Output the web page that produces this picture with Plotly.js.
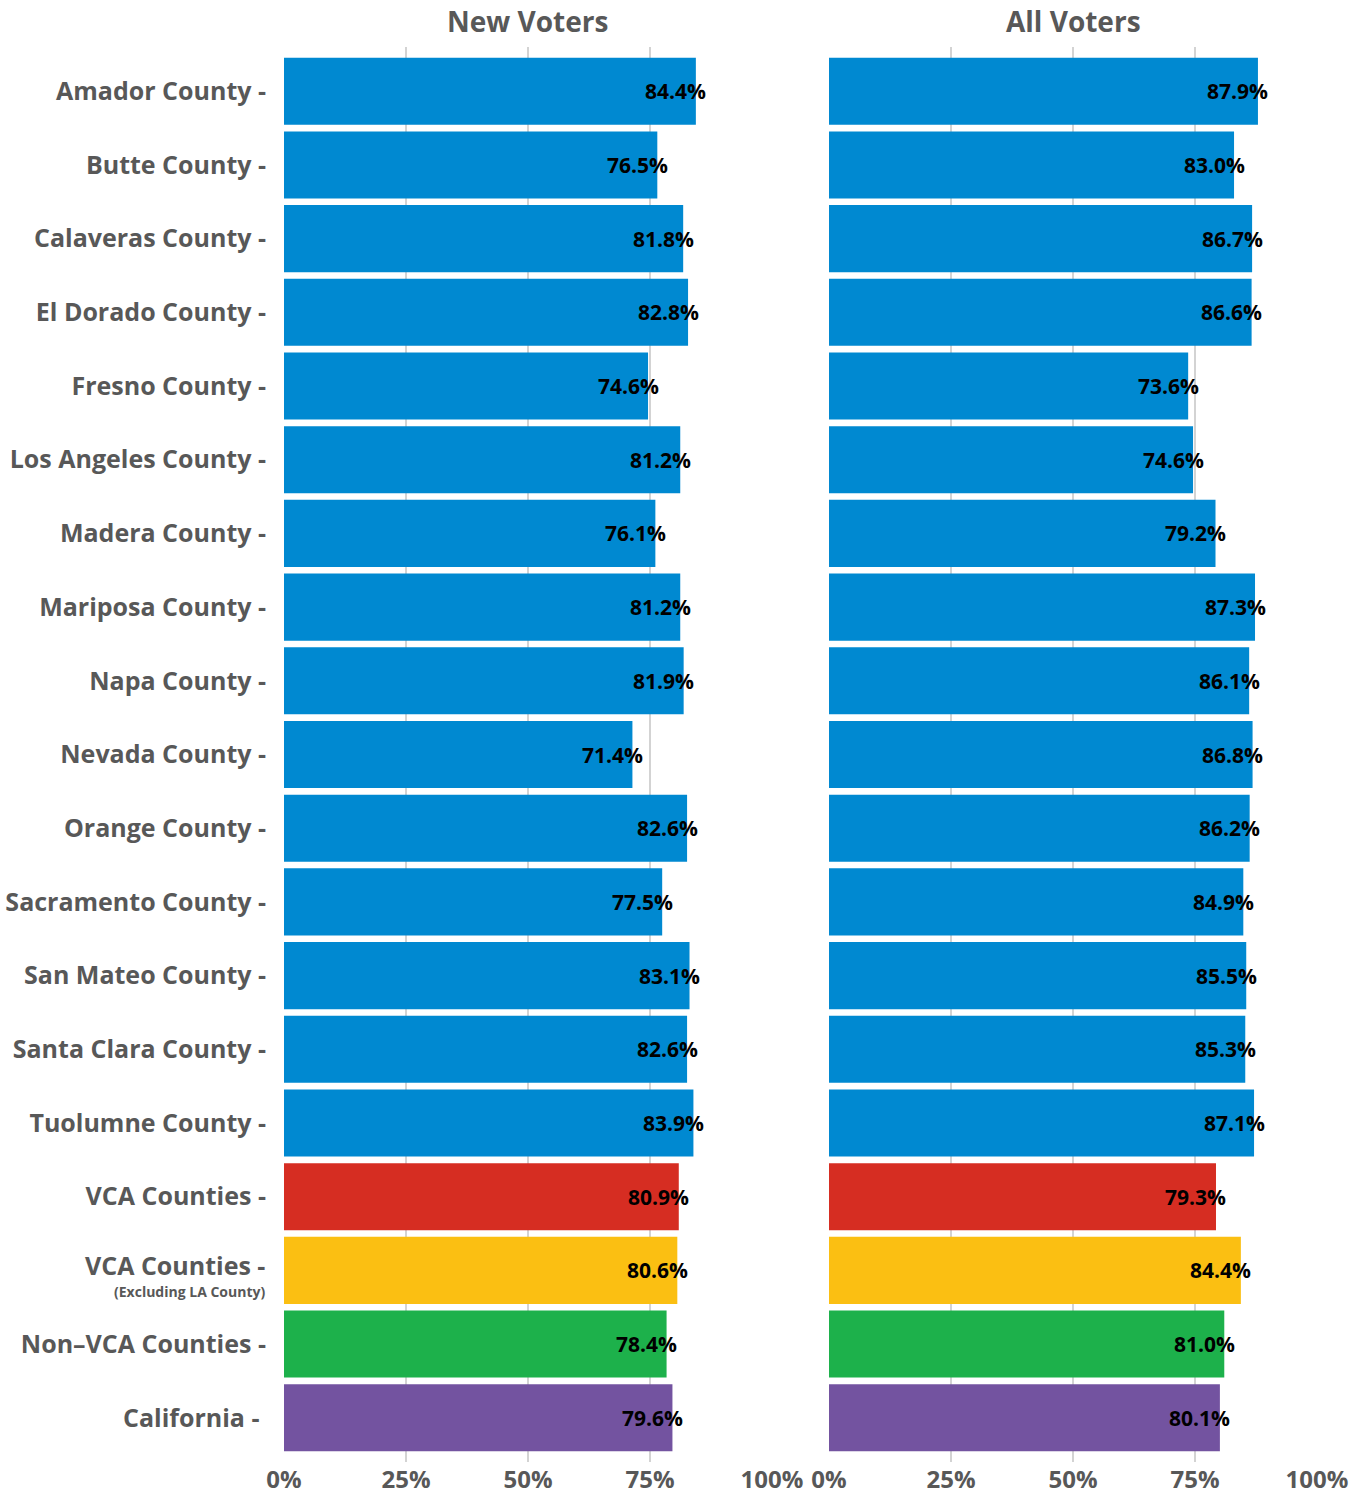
<!DOCTYPE html>
<html>
<head>
<meta charset="utf-8">
<script src="https://cdn.plot.ly/plotly-3.0.1.min.js"></script>
<style>html,body{margin:0;padding:0;background:#fff;}</style>
</head>
<body>
<div id="chart" style="width:1362px;height:1495px;"></div>
<script>
const categories = ["Amador County","Butte County","Calaveras County","El Dorado County","Fresno County","Los Angeles County","Madera County","Mariposa County","Napa County","Nevada County","Orange County","Sacramento County","San Mateo County","Santa Clara County","Tuolumne County","VCA Counties","VCA Counties (Excluding LA County)","Non\u2013VCA Counties","California"];
const tickLabels = ["Amador County -","Butte County -","Calaveras County -","El Dorado County -","Fresno County -","Los Angeles County -","Madera County -","Mariposa County -","Napa County -","Nevada County -","Orange County -","Sacramento County -","San Mateo County -","Santa Clara County -","Tuolumne County -","VCA Counties -","","Non\u2013VCA Counties -","California -\u00a0"];
const twoLineLabels = {"VCA Counties (Excluding LA County)":["VCA Counties -","(Excluding LA County)"]};
const newVoters = [84.4,76.5,81.8,82.8,74.6,81.2,76.1,81.2,81.9,71.4,82.6,77.5,83.1,82.6,83.9,80.9,80.6,78.4,79.6];
const allVoters = [87.9,83.0,86.7,86.6,73.6,74.6,79.2,87.3,86.1,86.8,86.2,84.9,85.5,85.3,87.1,79.3,84.4,81.0,80.1];
const groups = ["county","county","county","county","county","county","county","county","county","county","county","county","county","county","county","vca","vcaExLA","nonVca","state"];
const groupColors = {county:"#0089D1", vca:"#D62D22", vcaExLA:"#FBBF12", nonVca:"#1DB14B", state:"#7353A0"};
const xTickVals = [0,25,50,75,100];
const xTickText = ["0%","25%","50%","75%","100%"];

const FONT = "'Open Sans', sans-serif";
const GRAY = "#585858";
const colors = groups.map(g => groupColors[g]);
const b = s => "<b>" + s + "</b>";

const traces = [
  {type:"bar", orientation:"h", x:newVoters, y:categories, xaxis:"x", yaxis:"y",
   marker:{color:colors}, hoverinfo:"x+y"},
  {type:"bar", orientation:"h", x:allVoters, y:categories, xaxis:"x2", yaxis:"y",
   marker:{color:colors}, hoverinfo:"x+y"}
];

const annotations = [];
function addLabels(vals, xref){
  vals.forEach((v,i)=>{
    annotations.push({x:v, y:categories[i], xref:xref, yref:"y", text:b(v.toFixed(1)+"%"),
      showarrow:false, xanchor:"center", xshift:-20,
      font:{family:FONT, size:21, color:"#000"}});
  });
}
addLabels(newVoters,"x");
addLabels(allVoters,"x2");
Object.keys(twoLineLabels).forEach(c=>{
  const [main, sub] = twoLineLabels[c];
  annotations.push({x:0, y:c, xref:"paper", yref:"y", text:b(main), showarrow:false,
    xanchor:"right", xshift:-17, yshift:5, font:{family:FONT, size:25, color:GRAY}});
  annotations.push({x:0, y:c, xref:"paper", yref:"y", text:b(sub), showarrow:false,
    xanchor:"right", xshift:-17, yshift:-21, font:{family:FONT, size:14, color:GRAY}});
});
annotations.push({text:b("New Voters"), xref:"x domain", yref:"paper", x:0.5, y:1, yshift:5, yanchor:"bottom", showarrow:false,
  font:{family:FONT, size:28, color:GRAY}});
annotations.push({text:b("All Voters"), xref:"x2 domain", yref:"paper", x:0.5, y:1, yshift:5, yanchor:"bottom", showarrow:false,
  font:{family:FONT, size:28, color:GRAY}});

const xaxisCommon = {
  range:[0,100], tickvals:xTickVals, ticktext:xTickText.map(b), showgrid:true, gridcolor:"#d3d3d3", gridwidth:2.5,
  zeroline:false, showline:false, ticks:"", fixedrange:true, ticklabelstandoff:1,
  tickfont:{family:FONT, size:24, color:GRAY}
};

const layout = {
  width:1362, height:1495,
  margin:{l:284, r:45, t:47, b:33},
  paper_bgcolor:"#fff", plot_bgcolor:"#fff",
  showlegend:false, bargap:0.09,
  xaxis:Object.assign({}, xaxisCommon, {domain:[0,0.4724], anchor:"y"}),
  xaxis2:Object.assign({}, xaxisCommon, {domain:[0.5276,1], anchor:"y"}),
  yaxis:{type:"category", categoryorder:"array", categoryarray:categories,
    tickvals:categories, ticktext:tickLabels.map(t => t ? b(t) : ""), range:[18.6,-0.6],
    showgrid:false, zeroline:false, showline:false, ticks:"", ticklabelstandoff:17,
    tickfont:{family:FONT, size:25, color:GRAY}},
  annotations:annotations
};

Plotly.newPlot("chart", traces, layout, {staticPlot:true, displayModeBar:false});
</script>
</body>
</html>
